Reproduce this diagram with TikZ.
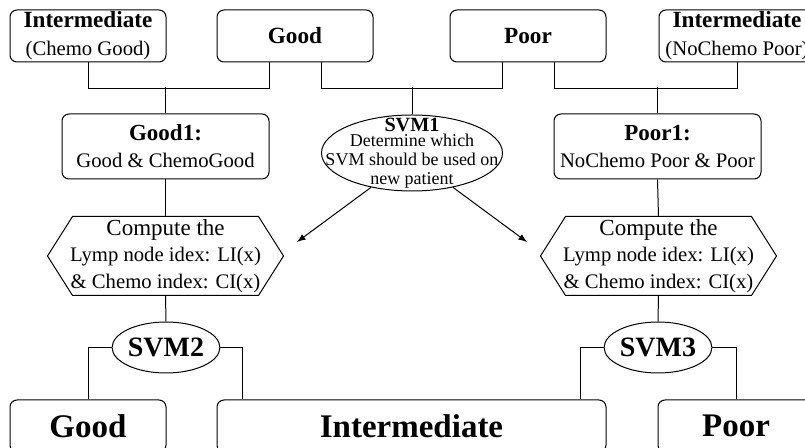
\documentclass[tikz,border=0pt]{standalone}
\usepackage{fontspec}
\setmainfont{Liberation Serif}
\usetikzlibrary{arrows, shapes.geometric}

\begin{document}
\begin{tikzpicture}[x=0.5pt, y=-0.5pt, line width=0.5pt,
  classbox/.style={draw, rounded corners=3.5pt, minimum width=78pt, minimum height=26pt, inner sep=0pt, align=center,
    font=\fontsize{10.35}{14}\selectfont},
  groupbox/.style={draw, rounded corners=3.5pt, minimum width=103.5pt, minimum height=32.5pt, inner sep=0pt, align=center,
    font=\fontsize{10.35}{13.5}\selectfont},
  resbox/.style={draw, rounded corners=3.5pt, minimum height=26pt, inner sep=0pt,
    font=\fontsize{16.5}{18}\selectfont\bfseries},
  hexbox/.style={minimum width=117.5pt, minimum height=39pt, inner sep=0pt, align=center,
    font=\fontsize{10.35}{13.25}\selectfont},
  svmnode/.style={draw, ellipse, minimum width=51.5pt, minimum height=25.5pt, inner sep=0pt,
    font=\fontsize{14}{16}\selectfont\bfseries}]
\useasboundingbox (0,0) rectangle (805,448);

% top row
\node[classbox] (intC) at (88,36) {{\fontsize{11.6}{14}\selectfont\bfseries Intermediate}\\(Chemo Good)};
\node[classbox, font=\fontsize{11.6}{14}\selectfont\bfseries] (goodT) at (295,36) {Good};
\node[classbox, font=\fontsize{11.6}{14}\selectfont\bfseries] (poorT) at (528,36) {Poor};
\node[classbox] (intN) at (737,36) {{\fontsize{11.6}{14}\selectfont\bfseries Intermediate}\\(NoChemo Poor)};

% second row
\node[groupbox] (goodA) at (165.5,146.5) {{\fontsize{11.5}{13.5}\selectfont\bfseries Good1:}\\Good \& ChemoGood};
\node[groupbox] (poorA) at (657.5,146.5) {{\fontsize{11.5}{13.5}\selectfont\bfseries Poor1:}\\NoChemo Poor \& Poor};
\node[draw, ellipse, minimum width=90.5pt, minimum height=38pt] (svmA) at (412,153) {};
\node[align=center, inner sep=0pt, font=\fontsize{9}{9.5}\selectfont] (svmAtxt) at (412,153)
  {{\fontsize{10.1}{9.5}\selectfont\bfseries SVM1}\\[-2pt]Determine which\\SVM should be used on\\new patient};

% index nodes
\node[hexbox] (cmpL) at (165.5,256) {{\fontsize{11.5}{13.25}\selectfont Compute the}\\Lymp node idex: LI(x)\\\& Chemo index: CI(x)};
\node[hexbox] (cmpR) at (658.5,256) {{\fontsize{11.5}{13.25}\selectfont Compute the}\\Lymp node idex: LI(x)\\\& Chemo index: CI(x)};
\foreach \h in {cmpL, cmpR}
  \draw (\h.west) -- ([xshift=12.5pt]\h.north west) -- ([xshift=-12.5pt]\h.north east) -- (\h.east)
    -- ([xshift=-12.5pt]\h.south east) -- ([xshift=12.5pt]\h.south west) -- cycle;

\node[svmnode] (svmB) at (166,347.5) {SVM2};
\node[svmnode] (svmC) at (658,347.5) {SVM3};

% results
\node[resbox, minimum width=78pt] (resG) at (88,426) {Good};
\node[resbox, minimum width=194.5pt] (resI) at (411.5,426) {Intermediate};
\node[resbox, minimum width=78pt] (resP) at (736,426) {Poor};

\coordinate (tipL) at (297,242);
\coordinate (tipR) at (527,242);

% connectors
\draw (intC.south) -- ++(0,26) -| ([xshift=-13pt]goodT.south);
\draw (goodA.north) -- ++(0,-26);
\draw ([xshift=13pt]goodT.south) -- ++(0,26) -| ([xshift=-13pt]poorT.south);
\draw (svmA.north) -- ++(0,-27);
\draw ([xshift=13pt]poorT.south) -- ++(0,26) -| (intN.south);
\draw (poorA.north) -- ++(0,-26);
\draw (goodA.south) -- (cmpL.north);
\draw (poorA.south) -- (cmpR.north);
\draw[-latex] (svmA.220) -- (tipL);
\draw[-latex] (svmA.-40) -- (tipR);
\draw (cmpL.south) -- (svmB.north);
\draw (cmpR.south) -- (svmC.north);
\draw (svmB.west) -| (resG.north);
\draw (svmB.east) -| ([xshift=13pt]resI.north west);
\draw (svmC.west) -| ([xshift=-13pt]resI.north east);
\draw (svmC.east) -| (resP.north);
\end{tikzpicture}
\end{document}
